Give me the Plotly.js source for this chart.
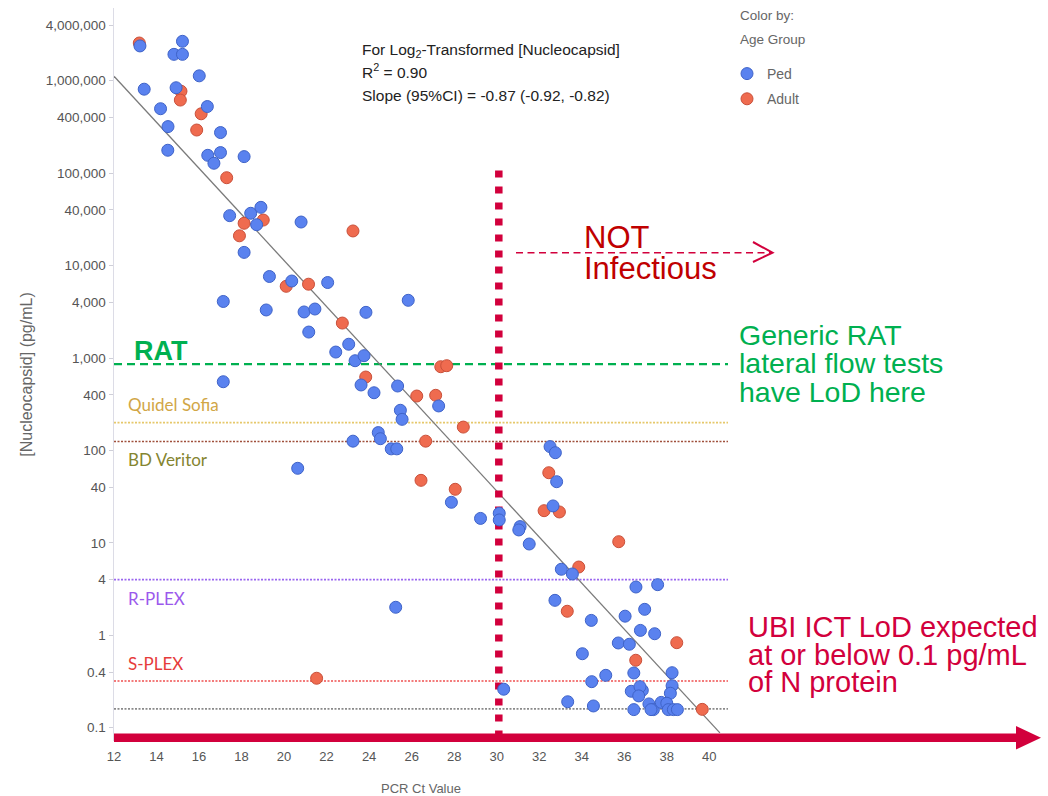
<!DOCTYPE html>
<html><head><meta charset="utf-8">
<script src="https://cdn.plot.ly/plotly-3.0.1.min.js"></script>
<style>html,body{margin:0;padding:0;background:#fff;} #chart{width:1048px;height:796px;}</style>
</head><body><div id="chart"></div>
<script>
// ---------- data ----------
const pedCt = [13.22,15.22,14.82,15.22,16.01,13.42,14.92,14.19,16.39,14.54,17.01,14.53,16.41,16.70,17.01,18.12,
  17.44,18.43,18.91,18.71,18.12,20.80,19.31,20.36,22.05,17.14,19.16,20.94,21.45,23.85,25.84,21.16,23.04,22.43,23.34,23.76,
  17.14,23.62,24.23,25.34,27.27,25.47,25.55,24.43,24.53,23.24,25.04,25.30,20.64,27.87,29.24,30.12,30.12,31.10,31.04,31.53,
  32.51,32.76,32.82,32.65,33.04,33.56,36.55,37.57,32.74,25.25,36.96,36.04,34.45,36.76,37.43,35.72,36.24,34.03,
  36.45,38.25,35.13,34.47,38.25,30.33,36.33,36.85,36.74,36.68,38.17,33.34,34.55,36.45,37.16,37.37,37.74,38.00,38.07,38.31,38.50,37.26];
const pedN = [2.38e6,2.67e6,1.93e6,1.93e6,1.13e6,8.1e5,8.4e5,4.98e5,5.26e5,3.19e5,2.75e5,1.77e5,1.56e5,1.28e5,1.67e5,1.51e5,
  34700,36800,42700,27700,13900,29600,7620,6810,6560,4090,3310,3150,3390,3120,4210,1910,1410,1160,935,1060,
  554,511,421,498,303,272,217,156,134,126,104,104,64.1,27.5,18.4,20.9,17.7,15.0,13.8,9.72,
  110,94.5,45.9,25.1,5.18,4.61,3.33,3.53,2.39,2.01,1.91,1.61,1.45,1.13,1.04,0.826,0.80,0.632,
  0.391,0.394,0.369,0.315,0.285,0.261,0.248,0.254,0.278,0.221,0.236,0.191,0.172,0.157,0.181,0.157,0.188,0.184,0.157,0.157,0.157,0.157];
const adultCt = [13.19,15.15,15.12,16.10,15.89,17.30,18.12,17.90,19.02,23.24,20.10,21.15,22.74,27.37,27.65,23.84,
  26.24,27.13,28.43,26.66,26.44,28.05,32.45,32.23,32.95,35.74,33.86,33.32,38.47,36.54,39.67,21.53];
const adultN = [2.56e6,7.71e5,6.18e5,4.39e5,2.93e5,89300,28700,21000,31100,23700,5970,6290,2390,805,826,623,
  388,395,179,126,47.5,38.0,57.4,22.3,21.6,10.3,5.48,1.82,0.832,0.537,0.158,0.343];
const fitCt = [12, 40.5];
const fitN = [1.12e6, 0.088];
const xTickVals = [12,14,16,18,20,22,24,26,28,30,32,34,36,38,40];
const yTickVals = [0.1,0.4,1,4,10,40,100,400,1000,4000,10000,40000,100000,400000,1000000,4000000];
const yTickText = ['0.1','0.4','1','4','10','40','100','400','1,000','4,000','10,000','40,000','100,000','400,000','1,000,000','4,000,000'];
const refNames = ['RAT','Quidel Sofia','BD Veritor','R-PLEX','S-PLEX','UBI ICT'];
const refLevels = [860, 200, 125, 4, 0.32, 0.16];
const cutoffCt = 30.1;
const cutoffSpan = [107000, 0.05];

// ---------- styling ----------
const xRange = [12, 40.88];
const yRange = [-1.1436, 6.787];
const refColors = ['#00b050','#e6c86a','#a0503c','#9a66f0','#f05050','#8a8a8a'];
const refDash = ['8px,5px','2px,1.5px','2px,1.5px','2px,1.5px','2px,1.5px','2px,1.5px'];
const refWidth = [2.2,1.6,1.6,1.6,1.6,1.6];
const labelColors = ['#00b050','#d1a646','#858530','#9b59ec','#e63b3b'];
const labelY = [351, 404, 459.5, 598, 663];
const FONT = 'Liberation Sans, Arial, sans-serif';
const CRIMSON = '#d2003c';

const PX = {l:114, t:8, w:614, h:733};
const ax = px => (px - PX.l) / PX.w;
const ay = py => (PX.t + PX.h - py) / PX.h;

const traces = [];
refLevels.forEach((v, i) => {
  traces.push({x: xRange, y: [v, v], mode: 'lines', name: refNames[i], showlegend: false, hoverinfo: 'skip',
    line: {color: refColors[i], width: refWidth[i], dash: refDash[i]}});
});
traces.push({x: fitCt, y: fitN, mode: 'lines', showlegend: false, hoverinfo: 'skip', line: {color: '#7a7a7a', width: 1.3}});
traces.push({x: [cutoffCt, cutoffCt], y: cutoffSpan, mode: 'lines', showlegend: false, hoverinfo: 'skip',
  line: {color: CRIMSON, width: 7.5, dash: '7px,9px'}});
traces.push({x: adultCt, y: adultN, mode: 'markers', name: 'Adult', legendrank: 2, legendgroup: 'a',
  marker: {size: 12, color: '#ef6b4f', line: {color: '#c9503a', width: 1}}});
traces.push({x: pedCt, y: pedN, mode: 'markers', name: 'Ped', legendrank: 1, legendgroup: 'p',
  marker: {size: 12, color: '#5a82ef', line: {color: '#3f63c8', width: 1}}});

const ann = [];
function txt(text, px, py, size, color, extra) {
  ann.push(Object.assign({text: text, xref: 'paper', yref: 'paper', x: ax(px), y: ay(py), xanchor: 'left', yanchor: 'middle',
    align: 'left', showarrow: false, font: {family: FONT, size: size, color: color}}, extra || {}));
}
// multi-line block: base size sets the line pitch (1.3 x base), glyphs drawn at glyphSize
function block(lines, px, pyCenter, pitch, glyphSize, color) {
  const base = pitch / 1.3;
  const t = lines.map(l => `<span style="font-size:${glyphSize}px">${l}</span>`).join('<br>');
  txt(t, px, pyCenter, base, color);
}
// reference line labels
txt('<b>RAT</b>', 132, labelY[0], 27, labelColors[0]);
for (let i = 1; i < 5; i++) {
  ann.push({text: refNames[i], xref: 'paper', yref: 'paper', x: ax(126), y: ay(labelY[i]), xanchor: 'left', yanchor: 'middle',
    showarrow: false, font: {family: 'Lato, Noto Sans, sans-serif', size: 17, color: labelColors[i]}});
}
// stats
block(['For Log<sub>2</sub>-Transformed [Nucleocapsid]', 'R<sup>2</sup> = 0.90', 'Slope (95%CI) = -0.87 (-0.92, -0.82)'],
  360, 72.5, 23, 15.5, '#222');
// legend heading
block(['Color by:', 'Age Group'], 738, 28, 23.5, 13.5, '#666');
// call-outs
block(['NOT', 'Infectious'], 582, 253, 30.8, 31, '#c00000');
block(['Generic RAT', 'lateral flow tests', 'have LoD here'], 737, 363.3, 28.4, 28.5, '#00b050');
block(['UBI ICT LoD expected', 'at or below 0.1 pg/mL', 'of N protein'], 746, 654.2, 27.5, 29, CRIMSON);

const shapes = [
  {type: 'line', xref: 'paper', yref: 'paper', x0: ax(114), x1: ax(1019), y0: ay(737.8), y1: ay(737.8),
    line: {color: CRIMSON, width: 8.5}},
  {type: 'path', xref: 'paper', yref: 'paper',
    path: `M ${ax(1016)},${ay(726)} L ${ax(1041)},${ay(737.8)} L ${ax(1016)},${ay(749.5)} Z`,
    fillcolor: CRIMSON, line: {width: 0}},
  {type: 'line', xref: 'paper', yref: 'paper', x0: ax(516), x1: ax(771), y0: ay(252.7), y1: ay(252.7),
    line: {color: CRIMSON, width: 1.6, dash: '7px,4.5px'}},
  {type: 'path', xref: 'paper', yref: 'paper',
    path: `M ${ax(753)},${ay(242)} L ${ax(772.5)},${ay(252.7)} L ${ax(753)},${ay(262)}`,
    fillcolor: 'rgba(0,0,0,0)', line: {color: CRIMSON, width: 2}}
];

const layout = {
  width: 1048, height: 796,
  margin: {l: PX.l, r: 1048 - PX.l - PX.w, t: PX.t, b: 796 - PX.t - PX.h},
  paper_bgcolor: '#fff', plot_bgcolor: '#fff',
  font: {family: FONT},
  hovermode: false,
  xaxis: {range: xRange, tickvals: xTickVals, ticks: '', showline: false, showgrid: false, zeroline: false,
    ticklabelstandoff: 6,
    tickfont: {size: 13, color: '#555', family: FONT},
    title: {text: 'PCR Ct Value', font: {size: 13, color: '#666', family: FONT}, standoff: 20}},
  yaxis: {type: 'log', range: yRange, tickvals: yTickVals, ticktext: yTickText, ticks: 'outside', ticklen: 4,
    tickcolor: '#cfcfd8', showline: true, linecolor: '#dcdce6', linewidth: 1.5, showgrid: false, zeroline: false,
    tickfont: {size: 13.5, color: '#555', family: FONT},
    title: {text: '[Nucleocapsid] (pg/mL)', font: {size: 16, color: '#666', family: FONT}, standoff: 9}},
  showlegend: true,
  legend: {x: ax(727), xanchor: 'left', y: ay(58), yanchor: 'top', traceorder: 'grouped', tracegroupgap: 4,
    font: {size: 14, color: '#666', family: FONT}, bgcolor: 'rgba(0,0,0,0)', itemwidth: 30},
  annotations: ann,
  shapes: shapes
};
Plotly.newPlot('chart', traces, layout, {displayModeBar: false, staticPlot: true});
</script></body></html>
